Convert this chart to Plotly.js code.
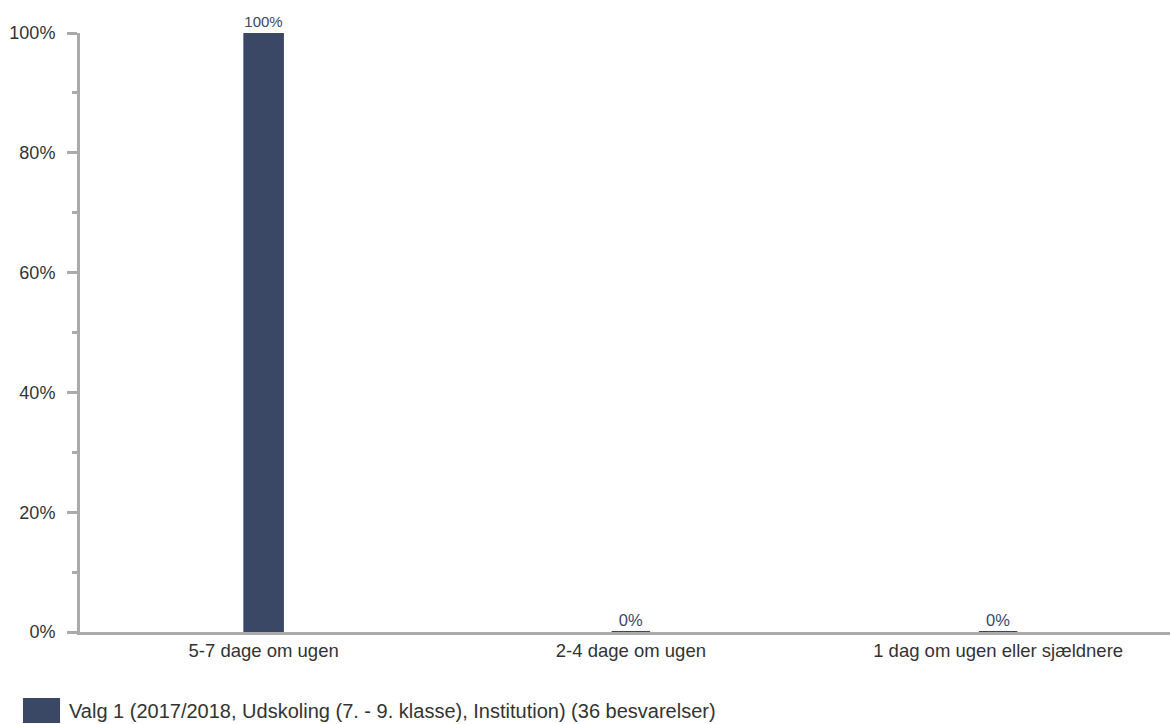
<!DOCTYPE html>
<html>
<head>
<meta charset="utf-8">
<script src="https://cdn.plot.ly/plotly-3.0.1.min.js"></script>
<style>html,body{margin:0;padding:0;background:#fff;}#chart{width:1170px;height:724px;}</style>
</head>
<body>
<div id="chart"></div>
<script>
const categories = ["5-7 dage om ugen", "2-4 dage om ugen", "1 dag om ugen eller sjældnere"];
const values = [1.0, 0.0, 0.0];
const valueLabels = ["100%", "0%", "0%"];
const seriesName = "Valg 1 (2017/2018, Udskoling (7. - 9. klasse), Institution) (36 besvarelser)";
const yTickVals = [0, 0.2, 0.4, 0.6, 0.8, 1.0];
const yTickText = ["0%", "20%", "40%", "60%", "80%", "100%"];

const barColor = "#3a4866";
const font = "Liberation Sans, Arial, sans-serif";

const trace = {
  type: "bar",
  x: categories,
  y: values,
  text: valueLabels,
  textposition: "outside",
  textfont: {family: font, size: 16.5, color: barColor},
  cliponaxis: false,
  width: 0.105,
  marker: {color: barColor, line: {width: 2, color: barColor}},
  hoverinfo: "none",
  showlegend: false
};

const layout = {
  width: 1170, height: 724,
  margin: {l: 80, r: 0, t: 33, b: 92},
  paper_bgcolor: "#fff", plot_bgcolor: "#fff",
  font: {family: font, color: "#333", size: 17},
  showlegend: false,
  bargap: 0,
  xaxis: {
    range: [-0.5, 2.468],
    showgrid: false, zeroline: false,
    showline: true, linecolor: "#aaa", linewidth: 3,
    layer: "below traces",
    ticks: "", tickfont: {size: 18.5, color: "#333"},
    fixedrange: true
  },
  yaxis: {
    range: [0, 1],
    tickvals: yTickVals, ticktext: yTickText,
    showgrid: false, zeroline: false,
    showline: true, linecolor: "#aaa", linewidth: 3,
    layer: "below traces",
    ticks: "outside", ticklen: 10, tickwidth: 3, tickcolor: "#aaa",
    minor: {dtick: 0.1, ticks: "outside", ticklen: 5, tickwidth: 3, tickcolor: "#aaa", showgrid: false},
    ticklabelstandoff: 8,
    tickfont: {size: 18, color: "#333"},
    fixedrange: true
  },
  shapes: [{
    type: "rect", xref: "paper", yref: "paper",
    x0: -0.0523, x1: -0.0183, y0: -0.110, y1: -0.152,
    fillcolor: barColor, line: {width: 0}
  }],
  annotations: [{
    xref: "paper", yref: "paper", x: -0.0115, y: -0.132,
    xanchor: "left", yanchor: "middle", showarrow: false,
    text: seriesName, font: {family: font, size: 20, color: "#333"}
  }]
};

Plotly.newPlot("chart", [trace], layout, {displayModeBar: false, staticPlot: true});
</script>
</body>
</html>
